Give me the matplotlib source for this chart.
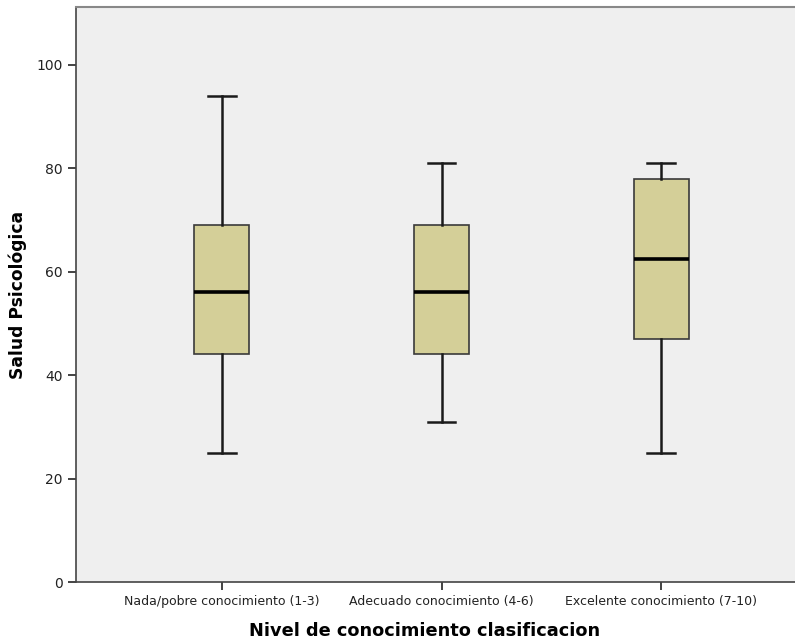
import numpy as np
import matplotlib
matplotlib.use('Agg')
import matplotlib.pyplot as plt

categorias = ['Nada/pobre conocimiento (1-3)', 'Adecuado conocimiento (4-6)', 'Excelente conocimiento (7-10)']
minimo = [25, 31, 25]
q1 = [44, 44, 47]
mediana = [56, 56, 62.5]
q3 = [69, 69, 78]
maximo = [94, 81, 81]

stats = []
for i in range(len(categorias)):
    stats.append({'whislo': minimo[i], 'q1': q1[i], 'med': mediana[i],
                  'q3': q3[i], 'whishi': maximo[i], 'fliers': [], 'label': categorias[i]})

fig = plt.figure(figsize=(7.95, 6.43), dpi=100)
ax = fig.add_axes([76/795, 61/643, (807-76)/795, 575/643])
ax.set_facecolor('#efefef')

ax.bxp(stats, positions=[1, 2, 3], widths=0.25, patch_artist=True, showfliers=False,
       boxprops=dict(facecolor='#d4cf98', edgecolor='#3a3a3a', linewidth=1.2),
       medianprops=dict(color='black', linewidth=2.6),
       whiskerprops=dict(color='#1a1a1a', linewidth=1.8),
       capprops=dict(color='#1a1a1a', linewidth=1.8), capwidths=0.125)

ax.set_xlim(0.336, 3.664)
ax.set_ylim(0, 111.2)
ax.set_yticks([0, 20, 40, 60, 80, 100])

for lado in ['left', 'bottom']:
    ax.spines[lado].set_color('#444444')
    ax.spines[lado].set_linewidth(1.2)
ax.spines['top'].set_color('#888888')
ax.spines['top'].set_linewidth(1.5)
ax.spines['right'].set_visible(False)

ax.tick_params(axis='y', labelsize=10, colors='#222222', length=6, width=1.2)
ax.tick_params(axis='x', labelsize=9, colors='#222222', length=6, width=1.2)
ax.set_xticklabels(categorias)

ax.set_ylabel('Salud Psicológica', fontsize=12.3, fontweight='bold', labelpad=7)
ax.set_xlabel('Nivel de conocimiento clasificacion', fontsize=12.8, fontweight='bold')
# centrar la etiqueta como en la original (x = 425 px)
ax.xaxis.set_label_coords((425 - 76) / (807 - 76), -0.07)

fig.savefig('out.png', dpi=100)
